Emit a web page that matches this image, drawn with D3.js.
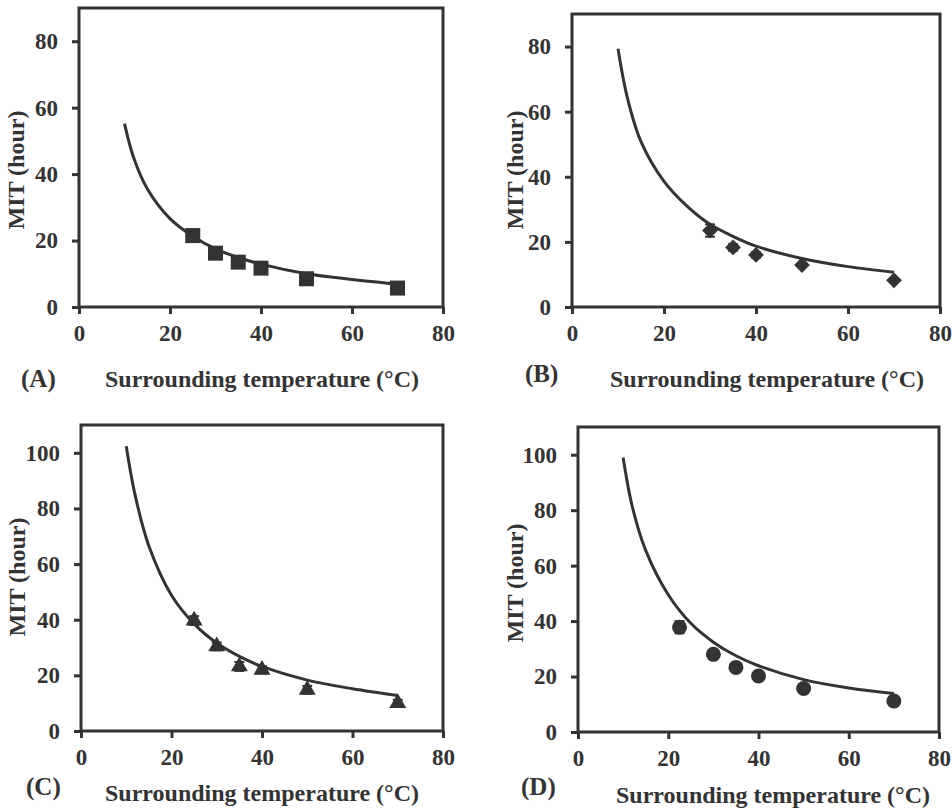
<!DOCTYPE html>
<html>
<head>
<meta charset="utf-8">
<script src="https://cdnjs.cloudflare.com/ajax/libs/d3/7.8.5/d3.min.js"></script>
<style>
  html, body { margin: 0; padding: 0; background: #fff; }
  svg { display: block; }
  text { font-family: "Liberation Serif", "Times New Roman", serif; font-weight: bold; fill: #333; }
</style>
</head>
<body>
<svg id="chart" width="952" height="808"></svg>
<script>
// ---------------- data ----------------
const xTicks = [0, 20, 40, 60, 80];
const yTicksAB = [0, 20, 40, 60, 80];
const yTicksCD = [0, 20, 40, 60, 80, 100];

// measured points (surrounding temperature °C, MIT hours, error)
const tempA = [25, 30, 35, 40, 50, 70];
const mitA  = [21.5, 16.2, 13.5, 11.7, 8.5, 5.7];
const errA  = [1.0, 0.8, 0.6, 0.5, 0.5, 0.4];

const tempB = [30, 35, 40, 50, 70];
const mitB  = [23.5, 18.3, 16.0, 12.9, 8.2];
const errB  = [1.9, 1.0, 0.8, 0.6, 0.5];

const tempC = [25, 30, 35, 40, 50, 70];
const mitC  = [39.7, 30.4, 23.2, 22.0, 14.8, 10.0];
const errC  = [1.6, 1.4, 1.6, 1.3, 1.4, 1.2];

const tempD = [22.5, 30, 35, 40, 50, 70];
const mitD  = [37.8, 28.0, 23.3, 20.2, 15.7, 11.2];
const errD  = [2.2, 1.0, 0.8, 0.8, 0.8, 0.8];

// model curves
const curveT = [10, 12, 15, 20, 25, 30, 35, 40, 50, 60, 70];
const fitA = [55.2, 45.0, 35.6, 26.6, 21.3, 17.5, 14.9, 12.9, 10.0, 8.3, 6.9];
const fitB = [79.3, 64.5, 50.8, 38.6, 31.0, 25.4, 21.7, 18.7, 14.9, 12.4, 10.7];
const fitC = [102.4, 84.5, 66.5, 48.8, 38.5, 31.6, 26.8, 23.2, 18.3, 15.2, 12.8];
const fitD = [99.0, 81.5, 65.5, 49.5, 39.2, 32.4, 27.5, 23.9, 18.9, 15.9, 13.9];

const panelLetters = ["(A)", "(B)", "(C)", "(D)"];
const xTitle = "Surrounding temperature (°C)";
const yTitle = "MIT (hour)";

// ---------------- layout ----------------
const ink = "#333";
const panels = [
  { letter: panelLetters[0], t: tempA, v: mitA, e: errA, fit: fitA, ymax: 90, yt: yTicksAB, sym: d3.symbolSquare, size: 225, rot: 0,
    box: { l: 79, t: 8, r: 443, b: 307 }, xl: { x: 262, y: 387 }, yl: { x: 16, y: 170 }, pl: { x: 21, y: 387 } },
  { letter: panelLetters[1], t: tempB, v: mitB, e: errB, fit: fitB, ymax: 90, yt: yTicksAB, sym: d3.symbolSquare, size: 125, rot: 45,
    box: { l: 572, t: 14, r: 940, b: 307 }, xl: { x: 767, y: 387 }, yl: { x: 515, y: 170 }, pl: { x: 525, y: 382 } },
  { letter: panelLetters[2], t: tempC, v: mitC, e: errC, fit: fitC, ymax: 110, yt: yTicksCD, sym: d3.symbolTriangle, size: 125, rot: 0,
    box: { l: 81, t: 425, r: 443, b: 731 }, xl: { x: 262, y: 801 }, yl: { x: 17, y: 577 }, pl: { x: 26, y: 795 } },
  { letter: panelLetters[3], t: tempD, v: mitD, e: errD, fit: fitD, ymax: 110, yt: yTicksCD, sym: d3.symbolCircle, size: 177, rot: 0,
    box: { l: 578, t: 427, r: 939, b: 732 }, xl: { x: 773, y: 803 }, yl: { x: 515, y: 583 }, pl: { x: 521, y: 795 } }
];

const svg = d3.select("#chart");

panels.forEach(p => {
  const g = svg.append("g");
  const x = d3.scaleLinear().domain([0, 80]).range([p.box.l, p.box.r]);
  const y = d3.scaleLinear().domain([0, p.ymax]).range([p.box.b, p.box.t]);

  // frame
  g.append("rect")
    .attr("x", p.box.l).attr("y", p.box.t)
    .attr("width", p.box.r - p.box.l).attr("height", p.box.b - p.box.t)
    .attr("fill", "none").attr("stroke", ink).attr("stroke-width", 3);

  // axes
  const ax = g.append("g").attr("transform", `translate(0,${p.box.b})`)
    .call(d3.axisBottom(x).tickValues(xTicks).tickSize(7).tickPadding(11).tickFormat(d3.format("d")));
  const ay = g.append("g").attr("transform", `translate(${p.box.l},0)`)
    .call(d3.axisLeft(y).tickValues(p.yt).tickSize(7).tickPadding(14).tickFormat(d3.format("d")));
  [ax, ay].forEach(a => {
    a.select(".domain").remove();
    a.selectAll(".tick line").attr("stroke", ink).attr("stroke-width", 3);
    a.selectAll(".tick text").attr("fill", ink).style("font-size", "23px")
      .style("font-family", "'Liberation Serif', serif").style("font-weight", "bold");
  });

  // fitted curve
  const line = d3.line().x((d, i) => x(curveT[i])).y(d => y(d)).curve(d3.curveCatmullRom.alpha(0.5));
  g.append("path").datum(p.fit).attr("d", line)
    .attr("fill", "none").attr("stroke", ink).attr("stroke-width", 3);

  // error bars
  const pts = p.t.map((t, i) => ({ t, v: p.v[i], e: p.e[i] }));
  const eb = g.append("g").attr("stroke", ink).attr("stroke-width", 2);
  pts.forEach(d => {
    eb.append("line").attr("x1", x(d.t)).attr("x2", x(d.t)).attr("y1", y(d.v - d.e)).attr("y2", y(d.v + d.e));
    [d.v - d.e, d.v + d.e].forEach(c => eb.append("line")
      .attr("x1", x(d.t) - 5).attr("x2", x(d.t) + 5).attr("y1", y(c)).attr("y2", y(c)));
  });

  // markers
  g.selectAll("path.mk").data(pts).join("path").attr("class", "mk")
    .attr("d", d3.symbol().type(p.sym).size(p.size))
    .attr("transform", d => `translate(${x(d.t)},${y(d.v)}) rotate(${p.rot})`)
    .attr("fill", ink);

  // titles
  g.append("text").attr("x", p.xl.x).attr("y", p.xl.y).attr("text-anchor", "middle")
    .style("font-size", "24px").text(xTitle);
  g.append("text").attr("transform", `translate(${p.yl.x},${p.yl.y}) rotate(-90)`)
    .attr("text-anchor", "middle").attr("dy", "0.35em")
    .style("font-size", "24px").text(yTitle);
  g.append("text").attr("x", p.pl.x).attr("y", p.pl.y)
    .style("font-size", "25px").text(p.letter);
});
</script>
</body>
</html>
